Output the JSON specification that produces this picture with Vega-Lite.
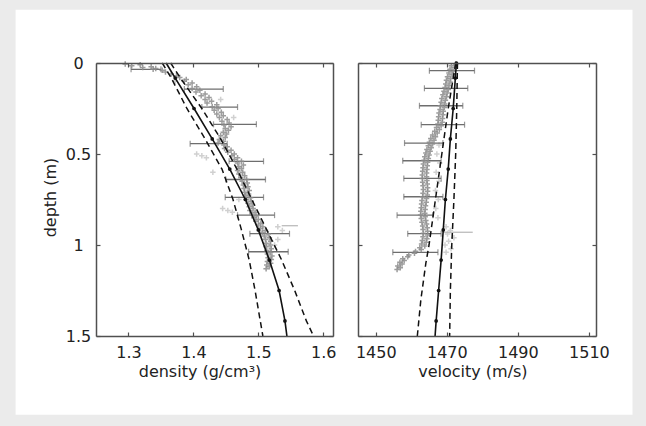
{
  "$schema": "https://vega.github.io/schema/vega-lite/v6.json",
  "background": "#ebebeb",
  "padding": {"left": 15, "top": 9, "right": 14, "bottom": 12},
  "bounds": "flush",
  "spacing": 25,
  "config": {
    "view": {"stroke": null},
    "font": "DejaVu Sans",
    "axis": {
      "grid": false,
      "domainColor": "#505050",
      "domainWidth": 1.5,
      "tickColor": "#505050",
      "tickWidth": 1.2,
      "tickSize": -4,
      "labelFont": "DejaVu Sans",
      "labelFontSize": 16,
      "labelColor": "#222222",
      "titleFont": "DejaVu Sans",
      "titleFontSize": 16,
      "titleFontWeight": "normal",
      "titleColor": "#222222"
    }
  },
  "datasets": {
    "frame": [{"x1": 1.1262, "x2": 2.0763, "y1": -0.2929, "y2": 1.9324}],
    "lpa": [
      {"d":0.005,"v":1.295},{"d":0.01,"v":1.318},{"d":0.015,"v":1.305},{"d":0.02,"v":1.335},{"d":0.025,"v":1.322},{"d":0.03,"v":1.342},{"d":0.035,"v":1.338},{"d":0.04,"v":1.352},{"d":0.05,"v":1.357},{"d":0.06,"v":1.366},{"d":0.07,"v":1.374},{"d":0.08,"v":1.379},{"d":0.09,"v":1.389},{"d":0.1,"v":1.386},{"d":0.11,"v":1.398},{"d":0.12,"v":1.392},{"d":0.13,"v":1.405},{"d":0.14,"v":1.398},{"d":0.15,"v":1.41},{"d":0.16,"v":1.404},{"d":0.17,"v":1.418},{"d":0.18,"v":1.412},{"d":0.19,"v":1.424},{"d":0.2,"v":1.418},{"d":0.21,"v":1.428},{"d":0.22,"v":1.421},{"d":0.23,"v":1.436},{"d":0.24,"v":1.429},{"d":0.25,"v":1.438},{"d":0.26,"v":1.432},{"d":0.27,"v":1.443},{"d":0.28,"v":1.436},{"d":0.29,"v":1.446},{"d":0.3,"v":1.44},{"d":0.31,"v":1.452},{"d":0.32,"v":1.444},{"d":0.33,"v":1.455},{"d":0.34,"v":1.447},{"d":0.35,"v":1.458},{"d":0.36,"v":1.449},{"d":0.37,"v":1.454},{"d":0.38,"v":1.446},{"d":0.39,"v":1.451},{"d":0.4,"v":1.442},{"d":0.41,"v":1.449},{"d":0.42,"v":1.44},{"d":0.43,"v":1.446},{"d":0.44,"v":1.438},{"d":0.45,"v":1.447},{"d":0.46,"v":1.452},{"d":0.47,"v":1.448},{"d":0.48,"v":1.458},{"d":0.49,"v":1.453},{"d":0.5,"v":1.463},{"d":0.51,"v":1.459},{"d":0.52,"v":1.468},{"d":0.53,"v":1.463},{"d":0.54,"v":1.474},{"d":0.55,"v":1.468},{"d":0.56,"v":1.477},{"d":0.57,"v":1.47},{"d":0.58,"v":1.474},{"d":0.59,"v":1.468},{"d":0.6,"v":1.476},{"d":0.61,"v":1.47},{"d":0.62,"v":1.479},{"d":0.63,"v":1.473},{"d":0.64,"v":1.482},{"d":0.65,"v":1.475},{"d":0.66,"v":1.483},{"d":0.67,"v":1.477},{"d":0.68,"v":1.484},{"d":0.69,"v":1.478},{"d":0.7,"v":1.486},{"d":0.71,"v":1.479},{"d":0.72,"v":1.485},{"d":0.73,"v":1.48},{"d":0.74,"v":1.488},{"d":0.75,"v":1.482},{"d":0.76,"v":1.489},{"d":0.77,"v":1.484},{"d":0.78,"v":1.491},{"d":0.79,"v":1.486},{"d":0.8,"v":1.492},{"d":0.81,"v":1.487},{"d":0.82,"v":1.495},{"d":0.83,"v":1.49},{"d":0.84,"v":1.497},{"d":0.85,"v":1.493},{"d":0.86,"v":1.5},{"d":0.87,"v":1.496},{"d":0.88,"v":1.504},{"d":0.89,"v":1.5},{"d":0.9,"v":1.507},{"d":0.91,"v":1.503},{"d":0.92,"v":1.511},{"d":0.93,"v":1.506},{"d":0.94,"v":1.515},{"d":0.95,"v":1.509},{"d":0.96,"v":1.517},{"d":0.97,"v":1.511},{"d":0.98,"v":1.519},{"d":0.99,"v":1.512},{"d":1.0,"v":1.518},{"d":1.01,"v":1.512},{"d":1.02,"v":1.52},{"d":1.03,"v":1.513},{"d":1.04,"v":1.519},{"d":1.05,"v":1.514},{"d":1.06,"v":1.521},{"d":1.07,"v":1.515},{"d":1.08,"v":1.52},{"d":1.09,"v":1.514},{"d":1.1,"v":1.519},{"d":1.11,"v":1.513},{"d":1.12,"v":1.517},{"d":1.13,"v":1.512}
    ],
    "lpb": [
      {"d":0.1,"v":1.372},{"d":0.2,"v":1.442},{"d":0.3,"v":1.462},{"d":0.5,"v":1.405},{"d":0.51,"v":1.413},{"d":0.52,"v":1.42},{"d":0.6,"v":1.43},{"d":0.75,"v":1.47},{"d":0.8,"v":1.445},{"d":0.81,"v":1.453},{"d":0.82,"v":1.46},{"d":0.9,"v":1.53},{"d":0.92,"v":1.537},{"d":0.97,"v":1.53},{"d":1.0,"v":1.525}
    ],
    "lea": [
      {"d":0.035,"lo":1.304,"hi":1.35},{"d":0.143,"lo":1.386,"hi":1.446},{"d":0.242,"lo":1.413,"hi":1.468},{"d":0.337,"lo":1.431,"hi":1.497},{"d":0.443,"lo":1.395,"hi":1.452},{"d":0.54,"lo":1.455,"hi":1.508},{"d":0.64,"lo":1.45,"hi":1.511},{"d":0.738,"lo":1.449,"hi":1.508},{"d":0.836,"lo":1.468,"hi":1.525},{"d":0.938,"lo":1.487,"hi":1.548},{"d":1.037,"lo":1.485,"hi":1.546}
    ],
    "leb": [
      {"d":0.894,"lo":1.536,"hi":1.561}
    ],
    "lc": [
      {"s":"m","d":0,"v":1.358},{"s":"m","d":0.083,"v":1.372},{"s":"m","d":0.25,"v":1.401},{"s":"m","d":0.417,"v":1.429},{"s":"m","d":0.583,"v":1.456},{"s":"m","d":0.75,"v":1.48},{"s":"m","d":0.917,"v":1.5},{"s":"m","d":1.083,"v":1.517},{"s":"m","d":1.25,"v":1.532},{"s":"m","d":1.417,"v":1.541},{"s":"m","d":1.5,"v":1.544},
      {"s":"l","d":0,"v":1.352},{"s":"l","d":0.083,"v":1.366},{"s":"l","d":0.25,"v":1.39},{"s":"l","d":0.417,"v":1.418},{"s":"l","d":0.583,"v":1.444},{"s":"l","d":0.75,"v":1.461},{"s":"l","d":0.917,"v":1.474},{"s":"l","d":1.083,"v":1.486},{"s":"l","d":1.25,"v":1.495},{"s":"l","d":1.417,"v":1.503},{"s":"l","d":1.5,"v":1.507},
      {"s":"u","d":0,"v":1.365},{"s":"u","d":0.083,"v":1.38},{"s":"u","d":0.25,"v":1.413},{"s":"u","d":0.417,"v":1.442},{"s":"u","d":0.583,"v":1.467},{"s":"u","d":0.75,"v":1.49},{"s":"u","d":0.917,"v":1.513},{"s":"u","d":1.083,"v":1.536},{"s":"u","d":1.25,"v":1.556},{"s":"u","d":1.417,"v":1.574},{"s":"u","d":1.5,"v":1.585}
    ],
    "rpa": [
      {"d":0.005,"v":1472.5},{"d":0.015,"v":1471.3},{"d":0.025,"v":1472.2},{"d":0.035,"v":1470.9},{"d":0.045,"v":1471.8},{"d":0.055,"v":1470.6},{"d":0.065,"v":1471.5},{"d":0.075,"v":1470.2},{"d":0.085,"v":1471.1},{"d":0.095,"v":1469.9},{"d":0.105,"v":1470.9},{"d":0.115,"v":1469.7},{"d":0.125,"v":1470.6},{"d":0.135,"v":1469.5},{"d":0.145,"v":1470.4},{"d":0.155,"v":1469.2},{"d":0.165,"v":1470.1},{"d":0.175,"v":1468.9},{"d":0.185,"v":1469.9},{"d":0.195,"v":1468.6},{"d":0.205,"v":1469.6},{"d":0.215,"v":1468.4},{"d":0.225,"v":1469.4},{"d":0.235,"v":1468.2},{"d":0.245,"v":1469.3},{"d":0.255,"v":1468.1},{"d":0.265,"v":1469.0},{"d":0.275,"v":1467.8},{"d":0.285,"v":1468.9},{"d":0.295,"v":1467.7},{"d":0.305,"v":1468.8},{"d":0.315,"v":1467.6},{"d":0.325,"v":1468.7},{"d":0.335,"v":1467.5},{"d":0.345,"v":1468.4},{"d":0.355,"v":1467.1},{"d":0.365,"v":1467.9},{"d":0.375,"v":1466.6},{"d":0.385,"v":1467.3},{"d":0.395,"v":1466.0},{"d":0.405,"v":1466.8},{"d":0.415,"v":1465.5},{"d":0.425,"v":1466.4},{"d":0.435,"v":1465.1},{"d":0.445,"v":1466.0},{"d":0.455,"v":1464.8},{"d":0.465,"v":1465.6},{"d":0.475,"v":1464.4},{"d":0.485,"v":1465.3},{"d":0.495,"v":1464.1},{"d":0.505,"v":1465.0},{"d":0.515,"v":1463.8},{"d":0.525,"v":1464.8},{"d":0.535,"v":1463.6},{"d":0.545,"v":1464.6},{"d":0.555,"v":1463.4},{"d":0.565,"v":1464.5},{"d":0.575,"v":1463.3},{"d":0.585,"v":1464.4},{"d":0.595,"v":1463.2},{"d":0.605,"v":1464.3},{"d":0.615,"v":1463.1},{"d":0.625,"v":1464.3},{"d":0.635,"v":1463.1},{"d":0.645,"v":1464.4},{"d":0.655,"v":1463.2},{"d":0.665,"v":1464.5},{"d":0.675,"v":1463.3},{"d":0.685,"v":1464.6},{"d":0.695,"v":1463.4},{"d":0.705,"v":1464.6},{"d":0.715,"v":1463.3},{"d":0.725,"v":1464.5},{"d":0.735,"v":1463.2},{"d":0.745,"v":1464.3},{"d":0.755,"v":1463.0},{"d":0.765,"v":1464.2},{"d":0.775,"v":1462.9},{"d":0.785,"v":1464.0},{"d":0.795,"v":1462.8},{"d":0.805,"v":1463.9},{"d":0.815,"v":1462.7},{"d":0.825,"v":1463.8},{"d":0.835,"v":1462.6},{"d":0.845,"v":1463.9},{"d":0.855,"v":1462.8},{"d":0.865,"v":1464.1},{"d":0.875,"v":1463.0},{"d":0.885,"v":1464.3},{"d":0.895,"v":1463.2},{"d":0.905,"v":1464.5},{"d":0.915,"v":1463.3},{"d":0.925,"v":1464.6},{"d":0.935,"v":1463.4},{"d":0.945,"v":1464.6},{"d":0.955,"v":1463.3},{"d":0.965,"v":1464.4},{"d":0.975,"v":1463.1},{"d":0.985,"v":1464.2},{"d":0.995,"v":1462.9},{"d":1.005,"v":1463.8},{"d":1.015,"v":1462.4},{"d":1.025,"v":1462.8},{"d":1.035,"v":1461.2},{"d":1.045,"v":1460.9},{"d":1.055,"v":1459.3},{"d":1.065,"v":1459.0},{"d":1.075,"v":1457.6},{"d":1.085,"v":1458.0},{"d":1.095,"v":1456.8},{"d":1.105,"v":1457.4},{"d":1.115,"v":1456.2},{"d":1.125,"v":1456.9},{"d":1.135,"v":1456.0}
    ],
    "rpb": [
      {"d":0.45,"v":1467.8},{"d":0.5,"v":1467.2},{"d":0.55,"v":1468.0},{"d":0.6,"v":1467.0},{"d":0.65,"v":1467.8},{"d":0.7,"v":1466.8},{"d":0.75,"v":1467.6},{"d":0.8,"v":1466.9},{"d":0.85,"v":1467.5},{"d":0.9,"v":1469.8},{"d":0.92,"v":1471.0},{"d":0.94,"v":1470.2},{"d":0.96,"v":1472.0},{"d":0.98,"v":1470.5},{"d":1.0,"v":1469.5},{"d":1.02,"v":1471.2},{"d":1.04,"v":1469.8}
    ],
    "rea": [
      {"d":0.042,"lo":1465.1,"hi":1477.8},{"d":0.139,"lo":1463.7,"hi":1475.9},{"d":0.235,"lo":1462.3,"hi":1474.5},{"d":0.339,"lo":1462.8,"hi":1475.0},{"d":0.44,"lo":1458.1,"hi":1468.9},{"d":0.537,"lo":1457.6,"hi":1468.4},{"d":0.634,"lo":1457.9,"hi":1468.4},{"d":0.735,"lo":1457.9,"hi":1468.9},{"d":0.836,"lo":1456.0,"hi":1466.1},{"d":0.938,"lo":1459.0,"hi":1468.4},{"d":1.04,"lo":1454.8,"hi":1467.5}
    ],
    "reb": [
      {"d":0.93,"lo":1469.0,"hi":1477.3}
    ],
    "rc": [
      {"s":"m","d":0,"v":1472.7},{"s":"m","d":0.083,"v":1472.4},{"s":"m","d":0.25,"v":1471.8},{"s":"m","d":0.417,"v":1471.0},{"s":"m","d":0.583,"v":1470.4},{"s":"m","d":0.75,"v":1469.6},{"s":"m","d":0.917,"v":1469.0},{"s":"m","d":1.083,"v":1468.4},{"s":"m","d":1.25,"v":1467.7},{"s":"m","d":1.417,"v":1467.0},{"s":"m","d":1.5,"v":1466.7},
      {"s":"u","d":0,"v":1473.0},{"s":"u","d":0.25,"v":1472.8},{"s":"u","d":0.5,"v":1472.5},{"s":"u","d":0.75,"v":1472.0},{"s":"u","d":1.0,"v":1471.4},{"s":"u","d":1.25,"v":1471.0},{"s":"u","d":1.5,"v":1470.8},
      {"s":"l","d":0,"v":1472.5},{"s":"l","d":0.25,"v":1470.4},{"s":"l","d":0.5,"v":1468.6},{"s":"l","d":0.75,"v":1466.8},{"s":"l","d":1.0,"v":1465.0},{"s":"l","d":1.1,"v":1464.1},{"s":"l","d":1.3,"v":1462.7},{"s":"l","d":1.5,"v":1461.7}
    ]
  },
  "hconcat": [
    {
      "width": 237,
      "height": 273,
      "resolve": {"axis": {"x": "independent", "y": "independent"}},
      "layer": [
        {
          "data": {"name": "frame"},
          "mark": {"type": "rect", "fill": "white", "strokeWidth": 0, "opacity": 1},
          "encoding": {
            "x": {"field": "x1", "type": "quantitative", "scale": {"domain": [1.25, 1.615], "nice": false, "zero": false}, "axis": null},
            "x2": {"field": "x2"},
            "y": {"field": "y1", "type": "quantitative", "scale": {"domain": [0, 1.5], "reverse": true, "nice": false, "zero": false}, "axis": null},
            "y2": {"field": "y2"}
          }
        },
        {
          "data": {"name": "lpb"},
          "mark": {"type": "point", "shape": "M-1,0L1,0M0,-1L0,1", "size": 30, "strokeWidth": 1.5, "color": "#cccccc", "filled": false, "opacity": 0.9},
          "encoding": {
            "x": {"field": "v", "type": "quantitative", "scale": {"domain": [1.25, 1.615], "nice": false, "zero": false}, "axis": null},
            "y": {"field": "d", "type": "quantitative", "scale": {"domain": [0, 1.5], "reverse": true, "nice": false, "zero": false}, "axis": null}
          }
        },
        {
          "data": {"name": "leb"},
          "mark": {"type": "rule", "strokeWidth": 1.3, "color": "#bbbbbb"},
          "encoding": {
            "x": {"field": "lo", "type": "quantitative", "scale": {"domain": [1.25, 1.615], "nice": false, "zero": false}, "axis": null},
            "x2": {"field": "hi"},
            "y": {"field": "d", "type": "quantitative", "scale": {"domain": [0, 1.5], "reverse": true, "nice": false, "zero": false}, "axis": null}
          }
        },
        {
          "data": {"name": "lea"},
          "mark": {"type": "rule", "strokeWidth": 1.3, "color": "#6e6e6e"},
          "encoding": {
            "x": {"field": "lo", "type": "quantitative", "scale": {"domain": [1.25, 1.615], "nice": false, "zero": false},
              "axis": {"zindex": 2, "orient": "bottom", "values": [1.3, 1.4, 1.5, 1.6], "format": ".1f", "labelPadding": 12, "labelBaseline": "top", "title": "density (g/cm³)", "titleX": 103.5, "titleY": 40, "titleAlign": "center", "titleBaseline": "alphabetic", "titleAnchor": null}},
            "x2": {"field": "hi"},
            "y": {"field": "d", "type": "quantitative", "scale": {"domain": [0, 1.5], "reverse": true, "nice": false, "zero": false},
              "axis": {"zindex": 2, "orient": "left", "values": [0, 0.5, 1, 1.5], "format": "~g", "labelPadding": 22, "labelAlign": "center", "labelBaseline": "middle", "labelFlush": false, "title": "depth (m)", "titleX": -40.5, "titleY": 134, "titleAngle": 270, "titleAlign": "center", "titleBaseline": "alphabetic", "titleAnchor": null}}
          }
        },
        {
          "data": {"name": "lea"},
          "mark": {"type": "tick", "orient": "vertical", "size": 6, "thickness": 1.2, "color": "#6e6e6e"},
          "encoding": {
            "x": {"field": "lo", "type": "quantitative", "scale": {"domain": [1.25, 1.615], "nice": false, "zero": false}, "axis": null},
            "y": {"field": "d", "type": "quantitative", "scale": {"domain": [0, 1.5], "reverse": true, "nice": false, "zero": false}, "axis": null}
          }
        },
        {
          "data": {"name": "lea"},
          "mark": {"type": "tick", "orient": "vertical", "size": 6, "thickness": 1.2, "color": "#6e6e6e"},
          "encoding": {
            "x": {"field": "hi", "type": "quantitative", "scale": {"domain": [1.25, 1.615], "nice": false, "zero": false}, "axis": null},
            "y": {"field": "d", "type": "quantitative", "scale": {"domain": [0, 1.5], "reverse": true, "nice": false, "zero": false}, "axis": null}
          }
        },
        {
          "data": {"name": "lpa"},
          "mark": {"type": "point", "shape": "M-1,0L1,0M0,-1L0,1", "size": 30, "strokeWidth": 1.5, "color": "#8c8c8c", "filled": false, "opacity": 0.85},
          "encoding": {
            "x": {"field": "v", "type": "quantitative", "scale": {"domain": [1.25, 1.615], "nice": false, "zero": false}, "axis": null},
            "y": {"field": "d", "type": "quantitative", "scale": {"domain": [0, 1.5], "reverse": true, "nice": false, "zero": false}, "axis": null}
          }
        },
        {
          "data": {"name": "lc"},
          "transform": [{"filter": "datum.s != 'm'"}],
          "mark": {"type": "line", "color": "#111111", "strokeWidth": 1.5, "strokeDash": [6, 4]},
          "encoding": {
            "x": {"field": "v", "type": "quantitative", "scale": {"domain": [1.25, 1.615], "nice": false, "zero": false},
              "axis": {"zindex": 2, "orient": "top", "values": [1.3, 1.4, 1.5, 1.6], "labels": false, "title": null}},
            "y": {"field": "d", "type": "quantitative", "scale": {"domain": [0, 1.5], "reverse": true, "nice": false, "zero": false},
              "axis": {"zindex": 2, "orient": "right", "values": [0, 0.5, 1, 1.5], "labels": false, "title": null}},
            "detail": {"field": "s"},
            "order": {"field": "d"}
          }
        },
        {
          "data": {"name": "lc"},
          "transform": [{"filter": "datum.s == 'm'"}],
          "mark": {"type": "line", "color": "#111111", "strokeWidth": 1.6},
          "encoding": {
            "x": {"field": "v", "type": "quantitative", "scale": {"domain": [1.25, 1.615], "nice": false, "zero": false}, "axis": null},
            "y": {"field": "d", "type": "quantitative", "scale": {"domain": [0, 1.5], "reverse": true, "nice": false, "zero": false}, "axis": null},
            "order": {"field": "d"}
          }
        },
        {
          "data": {"name": "lc"},
          "transform": [{"filter": "datum.s == 'm' && datum.d > 0 && datum.d < 1.5"}],
          "mark": {"type": "circle", "color": "#111111", "size": 14, "opacity": 1},
          "encoding": {
            "x": {"field": "v", "type": "quantitative", "scale": {"domain": [1.25, 1.615], "nice": false, "zero": false}, "axis": null},
            "y": {"field": "d", "type": "quantitative", "scale": {"domain": [0, 1.5], "reverse": true, "nice": false, "zero": false}, "axis": null}
          }
        }
      ]
    },
    {
      "width": 238,
      "height": 273,
      "resolve": {"axis": {"x": "independent", "y": "independent"}},
      "layer": [
        {
          "data": {"name": "rpb"},
          "mark": {"type": "point", "shape": "M-1,0L1,0M0,-1L0,1", "size": 30, "strokeWidth": 1.5, "color": "#cccccc", "filled": false, "opacity": 0.9},
          "encoding": {
            "x": {"field": "v", "type": "quantitative", "scale": {"domain": [1445, 1512], "nice": false, "zero": false}, "axis": null},
            "y": {"field": "d", "type": "quantitative", "scale": {"domain": [0, 1.5], "reverse": true, "nice": false, "zero": false}, "axis": null}
          }
        },
        {
          "data": {"name": "reb"},
          "mark": {"type": "rule", "strokeWidth": 1.3, "color": "#bbbbbb"},
          "encoding": {
            "x": {"field": "lo", "type": "quantitative", "scale": {"domain": [1445, 1512], "nice": false, "zero": false}, "axis": null},
            "x2": {"field": "hi"},
            "y": {"field": "d", "type": "quantitative", "scale": {"domain": [0, 1.5], "reverse": true, "nice": false, "zero": false}, "axis": null}
          }
        },
        {
          "data": {"name": "rea"},
          "mark": {"type": "rule", "strokeWidth": 1.3, "color": "#6e6e6e"},
          "encoding": {
            "x": {"field": "lo", "type": "quantitative", "scale": {"domain": [1445, 1512], "nice": false, "zero": false},
              "axis": {"zindex": 2, "orient": "bottom", "values": [1450, 1470, 1490, 1510], "format": "d", "labelPadding": 12, "labelBaseline": "top", "title": "velocity (m/s)", "titleX": 114.4, "titleY": 40, "titleAlign": "center", "titleBaseline": "alphabetic", "titleAnchor": null}},
            "x2": {"field": "hi"},
            "y": {"field": "d", "type": "quantitative", "scale": {"domain": [0, 1.5], "reverse": true, "nice": false, "zero": false},
              "axis": {"zindex": 2, "orient": "left", "values": [0, 0.5, 1, 1.5], "labels": false, "title": null}}
          }
        },
        {
          "data": {"name": "rea"},
          "mark": {"type": "tick", "orient": "vertical", "size": 6, "thickness": 1.2, "color": "#6e6e6e"},
          "encoding": {
            "x": {"field": "lo", "type": "quantitative", "scale": {"domain": [1445, 1512], "nice": false, "zero": false}, "axis": null},
            "y": {"field": "d", "type": "quantitative", "scale": {"domain": [0, 1.5], "reverse": true, "nice": false, "zero": false}, "axis": null}
          }
        },
        {
          "data": {"name": "rea"},
          "mark": {"type": "tick", "orient": "vertical", "size": 6, "thickness": 1.2, "color": "#6e6e6e"},
          "encoding": {
            "x": {"field": "hi", "type": "quantitative", "scale": {"domain": [1445, 1512], "nice": false, "zero": false}, "axis": null},
            "y": {"field": "d", "type": "quantitative", "scale": {"domain": [0, 1.5], "reverse": true, "nice": false, "zero": false}, "axis": null}
          }
        },
        {
          "data": {"name": "rpa"},
          "mark": {"type": "point", "shape": "M-1,0L1,0M0,-1L0,1", "size": 30, "strokeWidth": 1.5, "color": "#8c8c8c", "filled": false, "opacity": 0.85},
          "encoding": {
            "x": {"field": "v", "type": "quantitative", "scale": {"domain": [1445, 1512], "nice": false, "zero": false}, "axis": null},
            "y": {"field": "d", "type": "quantitative", "scale": {"domain": [0, 1.5], "reverse": true, "nice": false, "zero": false}, "axis": null}
          }
        },
        {
          "data": {"name": "rc"},
          "transform": [{"filter": "datum.s != 'm'"}],
          "mark": {"type": "line", "color": "#111111", "strokeWidth": 1.5, "strokeDash": [6, 4]},
          "encoding": {
            "x": {"field": "v", "type": "quantitative", "scale": {"domain": [1445, 1512], "nice": false, "zero": false},
              "axis": {"zindex": 2, "orient": "top", "values": [1450, 1470, 1490, 1510], "labels": false, "title": null}},
            "y": {"field": "d", "type": "quantitative", "scale": {"domain": [0, 1.5], "reverse": true, "nice": false, "zero": false},
              "axis": {"zindex": 2, "orient": "right", "values": [0, 0.5, 1, 1.5], "labels": false, "title": null}},
            "detail": {"field": "s"},
            "order": {"field": "d"}
          }
        },
        {
          "data": {"name": "rc"},
          "transform": [{"filter": "datum.s == 'm'"}],
          "mark": {"type": "line", "color": "#111111", "strokeWidth": 1.6},
          "encoding": {
            "x": {"field": "v", "type": "quantitative", "scale": {"domain": [1445, 1512], "nice": false, "zero": false}, "axis": null},
            "y": {"field": "d", "type": "quantitative", "scale": {"domain": [0, 1.5], "reverse": true, "nice": false, "zero": false}, "axis": null},
            "order": {"field": "d"}
          }
        },
        {
          "data": {"name": "rc"},
          "transform": [{"filter": "datum.s == 'm' && datum.d < 1.5"}],
          "mark": {"type": "circle", "color": "#111111", "size": 14, "opacity": 1},
          "encoding": {
            "x": {"field": "v", "type": "quantitative", "scale": {"domain": [1445, 1512], "nice": false, "zero": false}, "axis": null},
            "y": {"field": "d", "type": "quantitative", "scale": {"domain": [0, 1.5], "reverse": true, "nice": false, "zero": false}, "axis": null}
          }
        }
      ]
    }
  ]
}
